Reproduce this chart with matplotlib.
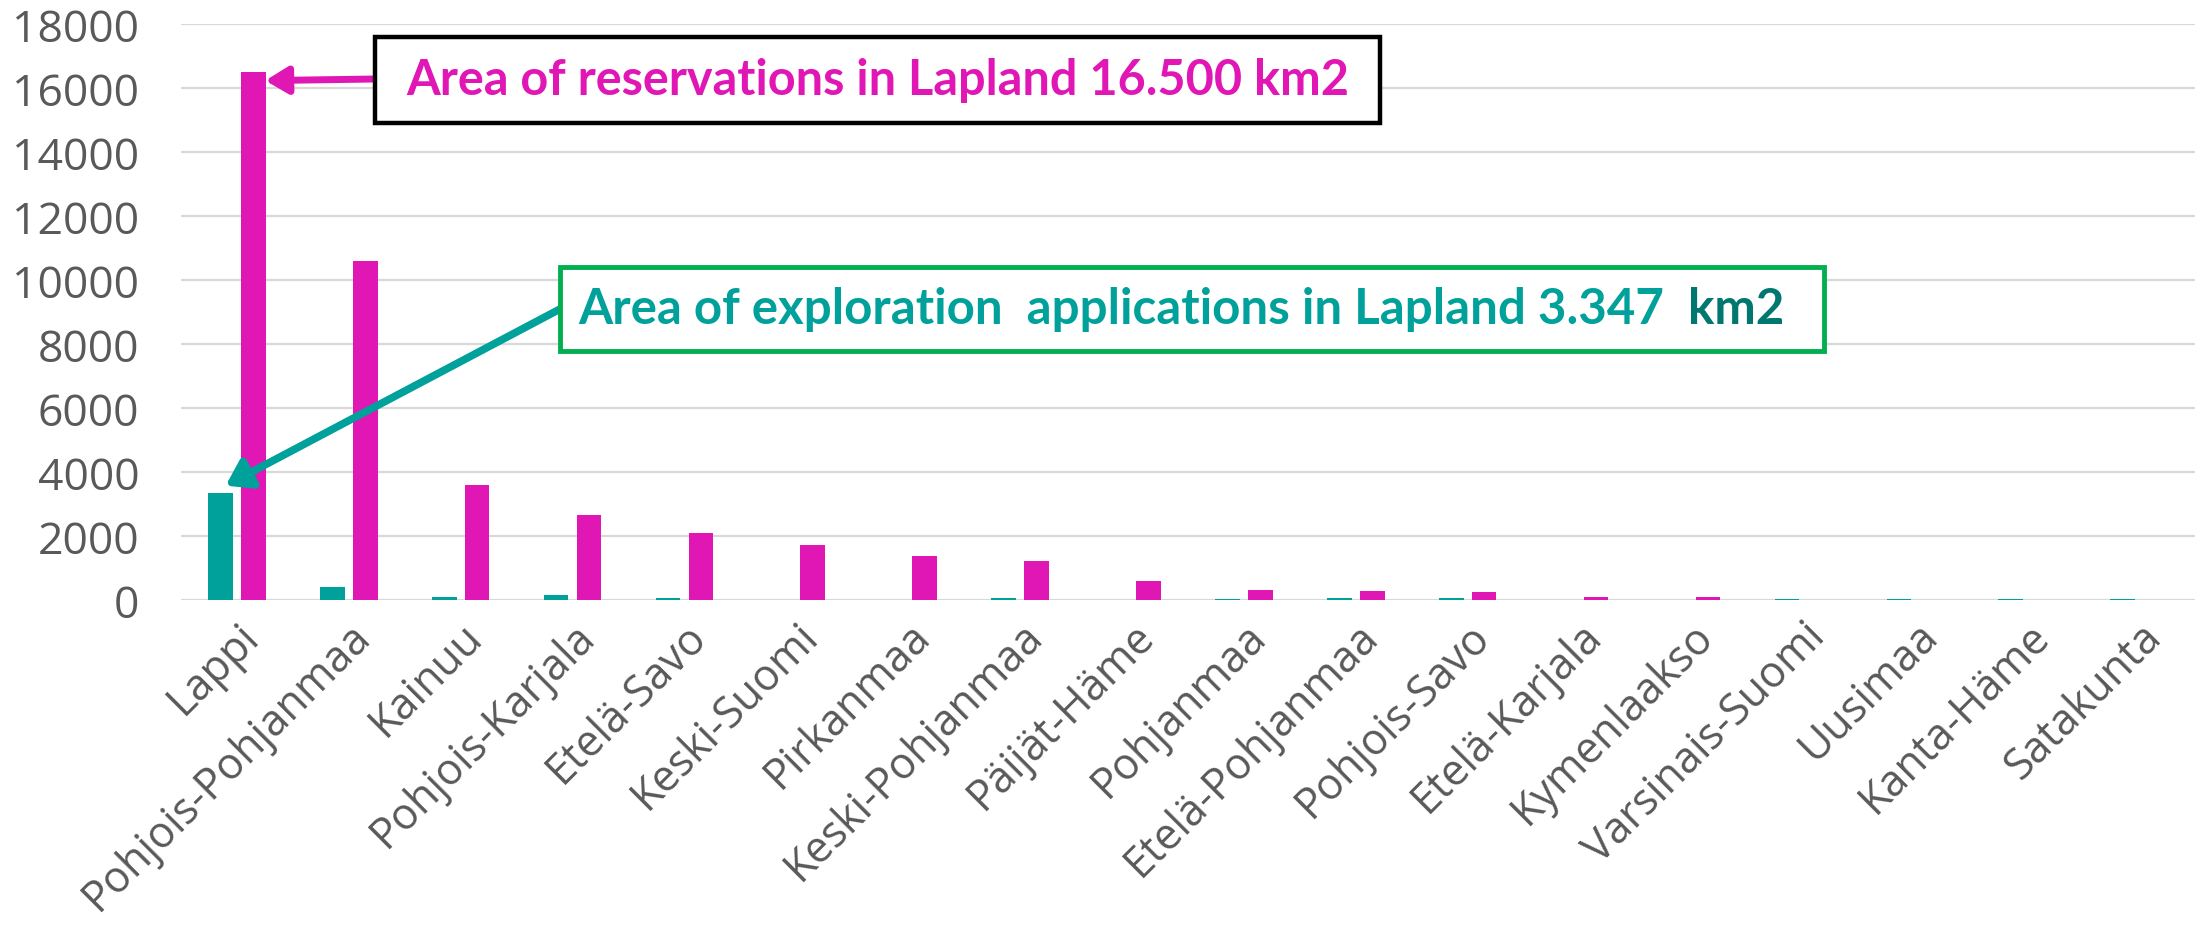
import numpy as np
import matplotlib.pyplot as plt
from matplotlib.patches import Rectangle

# regions of Finland, reservations vs exploration applications (km2)
regions = ["Lappi", "Pohjois-Pohjanmaa", "Kainuu", "Pohjois-Karjala", "Etelä-Savo",
           "Keski-Suomi", "Pirkanmaa", "Keski-Pohjanmaa", "Päijät-Häme", "Pohjanmaa",
           "Etelä-Pohjanmaa", "Pohjois-Savo", "Etelä-Karjala", "Kymenlaakso",
           "Varsinais-Suomi", "Uusimaa", "Kanta-Häme", "Satakunta"]
exploration = [3347, 400, 100, 150, 60, 0, 0, 50, 0, 10, 50, 70, 0, 0, 10, 10, 10, 10]
reservations = [16500, 10600, 3600, 2640, 2100, 1710, 1360, 1220, 600, 300,
                270, 230, 80, 80, 0, 0, 0, 0]
yticks = np.arange(0, 18001, 2000)

teal = "#00A19A"
teal_dark = "#00776F"
magenta = "#E016B5"
green = "#00B050"
grey = "#595959"

plt.rcParams['font.family'] = ['Open Sans', 'DejaVu Sans']

fig = plt.figure(figsize=(22.01, 9.28), dpi=100)
ax = fig.add_axes([0.0822, 0.3526, 0.9151, 0.6201])

x = np.arange(len(regions))
w = 0.22
ax.bar(x - 0.147, exploration, width=w, color=teal, zorder=3)
ax.bar(x + 0.147, reservations, width=w, color=magenta, zorder=3)

ax.set_xlim(-0.5, len(regions) - 0.5)
ax.set_ylim(0, 18000)
ax.set_yticks(yticks)
ax.grid(axis='y', color='#D9D9D9', lw=1.6, zorder=0)
for s in ax.spines.values():
    s.set_visible(False)
ax.tick_params(axis='both', length=0, colors=grey)
ax.tick_params(axis='y', pad=30, labelsize=32)
ax.set_xticks(x)
ax.set_xticklabels(regions, rotation=45, ha='right', va='top', rotation_mode='anchor')
ax.tick_params(axis='x', pad=10, labelsize=31)

# reservation callout
ax.add_patch(Rectangle((1.237, 14920), 10.22 - 1.237, 17600 - 14920, fc='white',
                       ec='black', lw=3.2, zorder=5, clip_on=False))
ax.text((1.237 + 10.22) / 2, 16260, "Area of reservations in Lapland 16.500 km2",
        color=magenta, fontsize=35, fontweight='bold', family='Lato',
        ha='center', va='center', zorder=6)
ax.annotate("", xy=(0.254, 16240), xytext=(1.237, 16290),
            arrowprops=dict(arrowstyle='-|>,head_length=0.45,head_width=0.27',
                            color=magenta, lw=5, mutation_scale=30,
                            shrinkA=0, shrinkB=0), zorder=4)

# exploration callout
ax.add_patch(Rectangle((2.888, 7790), 14.18 - 2.888, 10410 - 7790, fc='white',
                       ec=green, lw=3.5, zorder=5))
t = ax.text(3.05, 9100, "Area of exploration  applications in Lapland 3.347  ",
            color=teal, fontsize=35.5, fontweight='bold', family='Lato',
            ha='left', va='center', zorder=6)
ax.annotate("km2", xy=(1, 0), xycoords=t, va='bottom', ha='left',
            color=teal_dark, fontsize=35.5, fontweight='bold', family='Lato', zorder=6)
ax.annotate("", xy=(-0.1, 3570), xytext=(2.888, 9095),
            arrowprops=dict(arrowstyle='-|>,head_length=0.45,head_width=0.3',
                            color=teal, lw=5.5, mutation_scale=32,
                            shrinkA=0, shrinkB=0), zorder=4)

fig.savefig("out.png", dpi=100)
